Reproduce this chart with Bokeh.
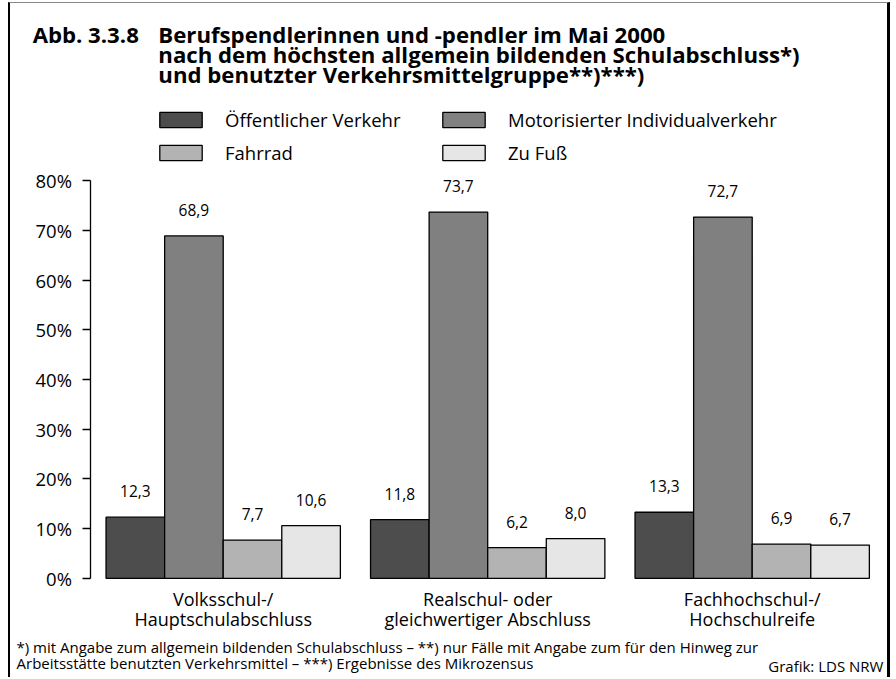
from bokeh.plotting import figure
from bokeh.models import (ColumnDataSource, FixedTicker, LabelSet, Legend, LegendItem, Range1d)
from bokeh.core.properties import value
from bokeh.embed import file_html
from bokeh.resources import INLINE

# ---- data ----
groups_line1 = ["Volksschul-/", "Realschul- oder", "Fachhochschul-/"]
groups_line2 = ["Hauptschulabschluss", "gleichwertiger Abschluss", "Hochschulreife"]
series = ["Öffentlicher Verkehr", "Motorisierter Individualverkehr", "Fahrrad", "Zu Fuß"]
oeffentlich = [12.3, 11.8, 13.3]
motorisiert = [68.9, 73.7, 72.7]
fahrrad = [7.7, 6.2, 6.9]
zu_fuss = [10.6, 8.0, 6.7]
y_ticks = [0, 10, 20, 30, 40, 50, 60, 70, 80]
y_tick_labels = ["0%", "10%", "20%", "30%", "40%", "50%", "60%", "70%", "80%"]

title_prefix = "Abb. 3.3.8"
title_lines = ["Berufspendlerinnen und -pendler im Mai 2000",
               "nach dem höchsten allgemein bildenden Schulabschluss*)",
               "und benutzter Verkehrsmittelgruppe**)***)"]
footnote_1 = "*) mit Angabe zum allgemein bildenden Schulabschluss – **) nur Fälle mit Angabe zum für den Hinweg zur"
footnote_2 = "Arbeitsstätte benutzten Verkehrsmittel – ***) Ergebnisse des Mikrozensus"
source_note = "Grafik: LDS NRW"

colors = ["#4d4d4d", "#808080", "#b3b3b3", "#e6e6e6"]
FONT = "Open Sans"

# ---- layout constants (page pixels) ----
CANVAS_L, CANVAS_T = 10, 3          # page position of the canvas
W, H = 877, 674                     # canvas size
AXIS_X, ZERO_Y = 90, 577            # page x of y-axis, page y of 0 %
GROUP_PX = 263                      # px between group centres
PX_PER_PCT = 397 / 80               # px per percentage point


def dx(page_x):
    return (page_x - AXIS_X) / GROUP_PX - 0.5


def dy(page_y):
    return (ZERO_Y - page_y) / PX_PER_PCT


p = figure(width=W, height=H, output_backend="svg", toolbar_location=None,
           x_range=Range1d(dx(CANVAS_L), dx(CANVAS_L + W)),
           y_range=Range1d(dy(CANVAS_T + H), dy(CANVAS_T)),
           min_border=0, min_border_left=0, min_border_right=0,
           min_border_top=0, min_border_bottom=0)
p.styles = {"margin-left": "8px", "margin-top": "2px", "box-sizing": "content-box",
            "border-left": "2px solid black", "border-right": "3px solid black",
            "border-top": "1px solid #888888"}
p.outline_line_color = None
p.grid.visible = False
p.xaxis.visible = False
p.background_fill_color = "white"
p.border_fill_color = "white"

yax = p.yaxis[0]
yax.fixed_location = -0.5
yax.bounds = (y_ticks[0], y_ticks[-1])
yax.ticker = FixedTicker(ticks=y_ticks)
yax.major_label_overrides = {t: l for t, l in zip(y_ticks, y_tick_labels)}
yax.major_tick_out = 8
yax.major_tick_in = 0
yax.minor_tick_out = 0
yax.minor_tick_in = 0
yax.axis_line_width = 1.3
yax.major_tick_line_width = 1.3
yax.axis_line_color = "black"
yax.major_tick_line_color = "black"
yax.major_label_standoff = 11
yax.major_label_text_font = FONT
yax.major_label_text_font_size = "18.5px"
yax.major_label_text_color = "black"

bar_w = 233 / GROUP_PX / 4
all_series = [oeffentlich, motorisiert, fahrrad, zu_fuss]
renderers = []
for j, vals in enumerate(all_series):
    xs = [i + (j - 1.5) * bar_w for i in range(len(vals))]
    src = ColumnDataSource(dict(x=xs, top=vals,
                                lab=[("%.1f" % v).replace(".", ",") for v in vals]))
    r = p.vbar(x="x", top="top", bottom=0, width=bar_w, source=src,
               fill_color=colors[j], line_color="black", line_width=1.3)
    renderers.append(r)
    p.add_layout(LabelSet(x="x", y="top", text="lab", source=src, y_offset=20,
                          text_align="center", text_baseline="alphabetic",
                          text_font=value(FONT), text_font_size=value("15.5px"),
                          text_color="black"))


def add_texts(xs_px, ys_px, texts, size, align="left", bold=False):
    src = ColumnDataSource(dict(x=[dx(v) for v in xs_px], y=[dy(v) for v in ys_px],
                                t=texts))
    p.add_layout(LabelSet(x="x", y="y", text="t", source=src, text_align=align,
                          text_baseline="alphabetic", text_font=value(FONT),
                          text_font_size=value(size),
                          text_font_style=value("bold" if bold else "normal"),
                          text_color="black"))


# category labels (centred on the groups)
cat_src = ColumnDataSource(dict(x=list(range(3)), l1=groups_line1, l2=groups_line2,
                                y1=[dy(605)] * 3, y2=[dy(625)] * 3))
for col, ycol in (("l1", "y1"), ("l2", "y2")):
    p.add_layout(LabelSet(x="x", y=ycol, text=col, source=cat_src, text_align="center",
                          text_baseline="alphabetic", text_font=value(FONT),
                          text_font_size=value("18px"), text_color="black"))


# legends (two columns)
def make_legend(idx, page_x):
    leg = Legend(items=[LegendItem(label=series[k], renderers=[renderers[k]]) for k in idx],
                 location=(page_x - CANVAS_L, (CANVAS_T + H) - 164),
                 orientation="vertical", glyph_width=53, glyph_height=19,
                 label_height=19, label_standoff=18, spacing=8, padding=0, margin=0,
                 border_line_color=None, background_fill_alpha=0,
                 label_text_font=FONT, label_text_font_size="18.5px",
                 label_text_color="black")
    p.add_layout(leg, "center")


make_legend([0, 2], 154)
make_legend([1, 3], 437)

# title
add_texts([32] + [157] * 3, [42, 42, 62, 82], [title_prefix] + title_lines,
          "22.2px", bold=True)

# footnotes
add_texts([16, 16], [652, 668], [footnote_1, footnote_2], "15px")
add_texts([878], [671], [source_note], "15px", align="right")

open("out.html", "w").write(file_html(p, INLINE))
